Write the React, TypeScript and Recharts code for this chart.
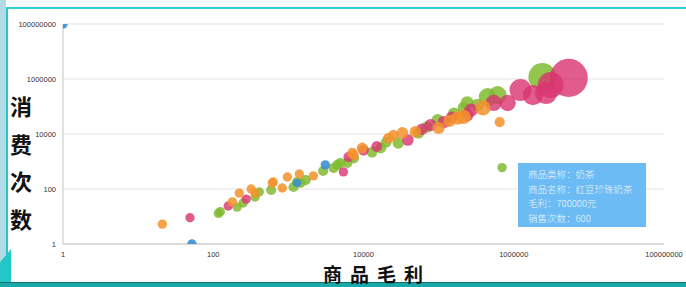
import React from 'react';
import { ScatterChart, Scatter, XAxis, YAxis, ZAxis, CartesianGrid } from 'recharts';

// each point: x = 商品毛利, y = 消费次数, z = bubble weight
const milkTea = [
  { x: 117, y: 13, z: 6 }, { x: 124, y: 15, z: 6 }, { x: 208, y: 22, z: 6 }, { x: 250, y: 31, z: 6 },
  { x: 410, y: 78, z: 6 }, { x: 360, y: 51, z: 6 }, { x: 590, y: 92, z: 7 }, { x: 1300, y: 180, z: 7 },
  { x: 1450, y: 165, z: 7 }, { x: 1170, y: 118, z: 7 }, { x: 1700, y: 210, z: 7 }, { x: 2900, y: 450, z: 7 },
  { x: 4500, y: 750, z: 7 }, { x: 6100, y: 880, z: 7 }, { x: 4000, y: 580, z: 7 }, { x: 4900, y: 880, z: 7 },
  { x: 7400, y: 1340, z: 8 }, { x: 13000, y: 2200, z: 8 }, { x: 17000, y: 3100, z: 8 }, { x: 20000, y: 5000, z: 8 },
  { x: 29000, y: 4700, z: 9 }, { x: 54000, y: 11000, z: 9 }, { x: 70000, y: 18000, z: 9 }, { x: 97000, y: 32000, z: 10 },
  { x: 160000, y: 55000, z: 10 }, { x: 215000, y: 89000, z: 10 }, { x: 330000, y: 113000, z: 11 },
  { x: 240000, y: 135000, z: 12 }, { x: 450000, y: 220000, z: 22 }, { x: 610000, y: 260000, z: 22 },
  { x: 2400000, y: 1180000, z: 53 }, { x: 700000, y: 600, z: 6 },
];

const fruitTea = [
  { x: 49, y: 9, z: 6 }, { x: 158, y: 24, z: 6 }, { x: 275, y: 43, z: 6 }, { x: 5400, y: 420, z: 6 },
  { x: 6300, y: 1450, z: 7 }, { x: 10000, y: 2600, z: 8 }, { x: 15000, y: 3500, z: 8 }, { x: 39000, y: 6000, z: 9 },
  { x: 60000, y: 15000, z: 9 }, { x: 78000, y: 21000, z: 10 }, { x: 117000, y: 27000, z: 10 },
  { x: 150000, y: 40000, z: 10 }, { x: 240000, y: 49000, z: 11 }, { x: 270000, y: 74000, z: 12 },
  { x: 540000, y: 135000, z: 18 }, { x: 830000, y: 135000, z: 18 }, { x: 1230000, y: 400000, z: 33 },
  { x: 1800000, y: 260000, z: 28 }, { x: 2700000, y: 310000, z: 33 }, { x: 3100000, y: 600000, z: 46 },
  { x: 5400000, y: 1100000, z: 99 },
];

const coffee = [
  { x: 21, y: 5.3, z: 6 }, { x: 180, y: 34, z: 6 }, { x: 222, y: 71, z: 6 }, { x: 320, y: 100, z: 6 },
  { x: 360, y: 71, z: 6 }, { x: 610, y: 165, z: 6 }, { x: 630, y: 180, z: 6 }, { x: 830, y: 109, z: 6 },
  { x: 970, y: 273, z: 6 }, { x: 1400, y: 350, z: 6 }, { x: 2150, y: 300, z: 6 }, { x: 7400, y: 1700, z: 7 },
  { x: 7100, y: 2050, z: 7 }, { x: 9600, y: 3100, z: 8 }, { x: 21500, y: 7100, z: 8 }, { x: 25000, y: 9000, z: 8 },
  { x: 33000, y: 11000, z: 9 }, { x: 49000, y: 12000, z: 9 }, { x: 100000, y: 16500, z: 10 },
  { x: 140000, y: 30000, z: 10 }, { x: 180000, y: 38000, z: 12 }, { x: 215000, y: 42000, z: 14 },
  { x: 390000, y: 89000, z: 16 }, { x: 650000, y: 27000, z: 7 },
];

const dessert = [
  { x: 1, y: 100000000, z: 6 }, { x: 52, y: 1, z: 6 }, { x: 3100, y: 750, z: 6 }, { x: 1300, y: 165, z: 5 },
];

const xTicks = [1, 100, 10000, 1000000, 100000000];
const yTicks = [1, 100, 10000, 1000000, 100000000];

const tooltipLines = ['商品类称：奶茶', '商品名称：红豆珍珠奶茶', '毛利：700000元', '销售次数：600'];
const yTitle = ['消', '费', '次', '数'];

const tickStyle = { fontSize: 7.5, fill: '#333', fontFamily: 'Liberation Sans, Arial' };

const App: React.FC = () => {
  return (
    <div style={{ position: 'fixed', left: 0, top: 0, width: 686, height: 287, background: '#fff', overflow: 'hidden' }}>
      {/* frame decorations */}
      <div style={{ position: 'absolute', left: 0, top: 0, width: 686, height: 7, background: '#f6fafa' }} />
      <div style={{ position: 'absolute', left: 0, top: 0, width: 6, height: 287, background: '#b2dbe6' }} />
      <div style={{ position: 'absolute', left: 6, top: 7, width: 2, height: 280, background: '#25c6c6' }} />
      <div style={{ position: 'absolute', left: 6, top: 7, width: 680, height: 2, background: '#2fd0d0' }} />
      <div style={{ position: 'absolute', left: 0, top: 249, width: 11, height: 38, background: '#22c8c8', clipPath: 'polygon(0 35%, 100% 0, 100% 100%, 0 100%)' }} />
      <div style={{ position: 'absolute', left: 0, top: 282, width: 686, height: 5, background: '#1aa9a9', borderTop: '1px solid #0f6f6f' }} />

      <ScatterChart width={686} height={287} margin={{ top: 24, right: 22, bottom: 23, left: 0 }} style={{ position: 'absolute', left: 0, top: 0 }}>
        <CartesianGrid horizontal vertical={false} stroke="#e2e2e2" />
        <XAxis
          type="number"
          dataKey="x"
          scale="log"
          domain={[1, 100000000]}
          ticks={xTicks}
          interval={0}
          height={20}
          tickLine={false}
          tickSize={6}
          tickMargin={2}
          stroke="#c4c4c4"
          tick={tickStyle}
          allowDataOverflow
        />
        <YAxis
          type="number"
          dataKey="y"
          scale="log"
          domain={[1, 100000000]}
          ticks={yTicks}
          interval={0}
          width={63}
          tickLine={false}
          tickSize={4}
          tickMargin={3}
          stroke="#c4c4c4"
          tick={tickStyle}
          allowDataOverflow
        />
        <ZAxis type="number" dataKey="z" domain={[0, 100]} range={[0, 1150]} />
        <Scatter name="奶茶" data={milkTea} fill="#80bb30" fillOpacity={0.85} isAnimationActive={false} />
        <Scatter name="果茶" data={fruitTea} fill="#d93370" fillOpacity={0.8} isAnimationActive={false} />
        <Scatter name="咖啡" data={coffee} fill="#f3922b" fillOpacity={0.85} isAnimationActive={false} />
        <Scatter name="甜品" data={dessert} fill="#3b8fd2" fillOpacity={0.9} isAnimationActive={false} />
      </ScatterChart>

      {/* axis titles */}
      <div style={{ position: 'absolute', left: 9, top: 87, width: 24, fontFamily: 'Noto Sans CJK SC', fontWeight: 700, fontSize: 22, lineHeight: '37.5px', color: '#111', textAlign: 'center' }}>
        {yTitle.map((c) => (
          <div key={c}>{c}</div>
        ))}
      </div>
      <div style={{ position: 'absolute', left: 323, top: 264, fontFamily: 'Noto Sans CJK SC', fontWeight: 700, fontSize: 19, lineHeight: '19px', letterSpacing: 8, color: '#111', whiteSpace: 'nowrap' }}>
        商品毛利
      </div>

      {/* fixed tooltip */}
      <div style={{ position: 'absolute', left: 518, top: 163, width: 128, height: 64, boxSizing: 'border-box', padding: '4px 0 0 10px', background: '#6cbbf5', color: 'rgba(255,255,255,0.9)', fontFamily: 'Noto Sans CJK SC', fontWeight: 300, fontSize: 9.5, lineHeight: '14.5px', whiteSpace: 'nowrap' }}>
        {tooltipLines.map((t) => (
          <div key={t}>{t}</div>
        ))}
      </div>
    </div>
  );
};

export default App;
